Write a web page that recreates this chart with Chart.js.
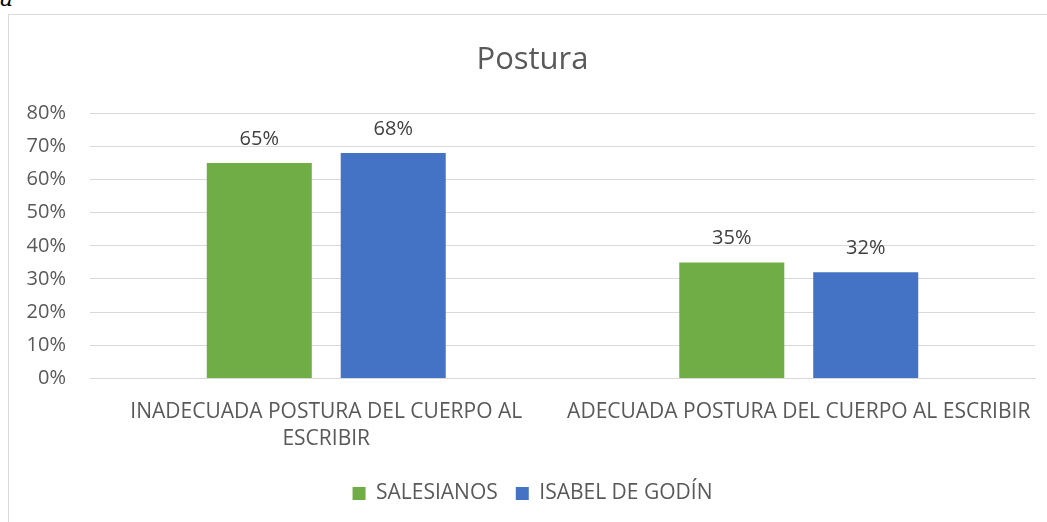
<!DOCTYPE html>
<html>
<head>
<meta charset="utf-8">
<script src="https://cdn.jsdelivr.net/npm/chart.js@4.4.0/dist/chart.umd.min.js"></script>
<style>
  body { margin: 0; background: #fff; }
  #marco { position: absolute; left: 8px; top: 14px; width: 1100px; height: 600px; border: 1px solid #d9d9d9; }
  #letra { position: absolute; left: 0; top: -14px; font: italic 22px "DejaVu Serif", serif; color: #000; }
  #wrap { position: absolute; left: 0; top: 0; width: 1047px; height: 522px; }
</style>
</head>
<body>
<div id="letra">a</div>
<div id="marco"></div>
<div id="wrap"><canvas id="grafico"></canvas></div>
<script>
// datos
const categorias = [['INADECUADA POSTURA DEL CUERPO AL', 'ESCRIBIR'], 'ADECUADA POSTURA DEL CUERPO AL ESCRIBIR'];
const salesianos = [65, 35];
const isabelDeGodin = [68, 32];
const series = ['SALESIANOS', 'ISABEL DE GODÍN'];

const fuente = '"Open Sans", sans-serif';
const gris = '#595959';

// etiquetas encima de las barras
const etiquetas = {
    id: 'etiquetas',
    afterDatasetsDraw(chart) {
        const ctx = chart.ctx;
        ctx.save();
        ctx.font = '20px ' + fuente;
        ctx.fillStyle = '#404040';
        ctx.textAlign = 'center';
        ctx.textBaseline = 'bottom';
        chart.data.datasets.forEach((ds, i) => {
            chart.getDatasetMeta(i).data.forEach((bar, j) => {
                ctx.fillText(ds.data[j] + '%', bar.x, bar.y - 14);
            });
        });
        ctx.restore();
    }
};

const ctx = document.getElementById('grafico');

new Chart(ctx, {
    type: 'bar',
    data: {
        labels: categorias,
        datasets: [{
            label: series[0],
            data: salesianos,
            backgroundColor: '#70AD47'
        }, {
            label: series[1],
            data: isabelDeGodin,
            backgroundColor: '#4472C4'
        }]
    },
    plugins: [etiquetas],
    options: {
        responsive: true,
        maintainAspectRatio: false,
        animation: false,
        categoryPercentage: 0.567,
        barPercentage: 0.784,
        layout: {
            padding: { left: 22, right: 4, top: 0, bottom: 8 }
        },
        scales: {
            x: {
                afterFit(scale) {
                    scale.height -= 8;
                    scale.paddingRight = 12;
                },
                grid: { display: false, drawTicks: false },
                border: { color: '#d9d9d9' },
                ticks: {
                    color: gris,
                    font: { family: fuente, size: 21, lineHeight: 1.3 },
                    padding: 20,
                    maxRotation: 0
                }
            },
            y: {
                min: 0,
                max: 80,
                afterFit(scale) { scale.width = 68; },
                grid: { color: '#d9d9d9', drawTicks: false },
                border: { display: false },
                ticks: {
                    stepSize: 10,
                    color: gris,
                    padding: 24,
                    font: { family: fuente, size: 20 },
                    callback: v => v + '%'
                }
            }
        },
        plugins: {
            title: {
                display: true,
                text: 'Postura',
                color: gris,
                font: { family: fuente, size: 31, weight: 'normal' },
                padding: { top: 42, bottom: 34 }
            },
            legend: {
                position: 'bottom',
                labels: {
                    color: gris,
                    font: { family: fuente, size: 21 },
                    boxWidth: 13,
                    boxHeight: 13,
                    padding: 18
                }
            },
            tooltip: { enabled: false }
        }
    }
});
</script>
</body>
</html>
